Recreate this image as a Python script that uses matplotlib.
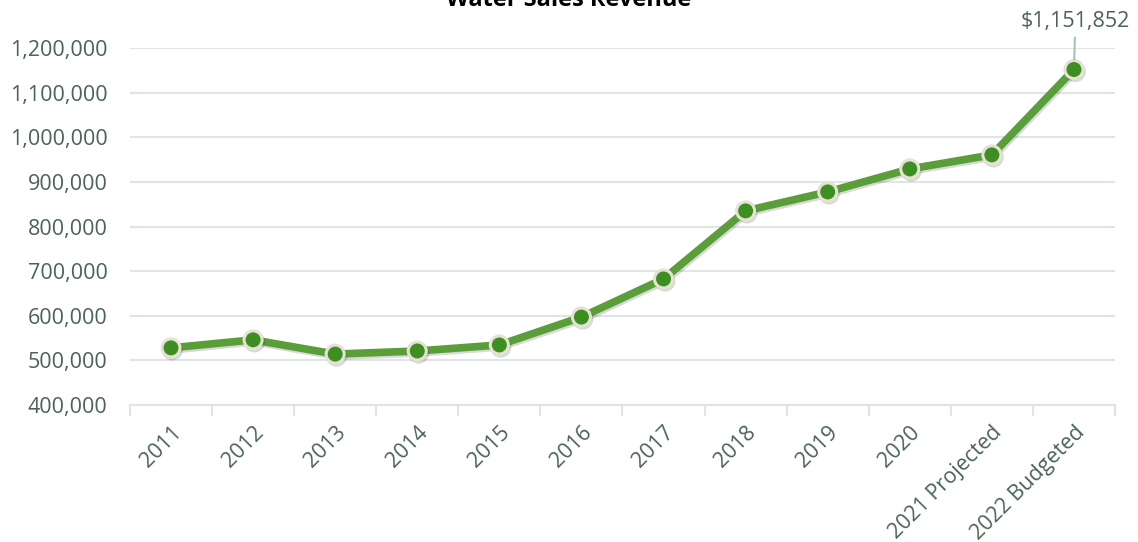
import matplotlib.pyplot as plt
import matplotlib.patheffects as pe
from matplotlib.ticker import FuncFormatter

plt.rcParams['font.family'] = ['Open Sans', 'DejaVu Sans']

# Revenue by year
years = ["2011", "2012", "2013", "2014", "2015", "2016", "2017", "2018",
         "2019", "2020", "2021 Projected", "2022 Budgeted"]
revenue = [528000, 546000, 514000, 521000, 534500, 597000, 682500, 835000,
           877500, 929000, 960500, 1151852]

text_color = "#4a6455"
grid_color = "#dfe5e2"
line_color = "#5a9e3a"
marker_color = "#3d8f22"
marker_edge = "#e6e2d3"

fig = plt.figure(figsize=(11.38, 5.42), dpi=100)
ax = fig.add_axes([0.1142, 0.2528, 0.8656, 0.6586])

x = list(range(len(years)))
ax.plot(x, revenue, color=line_color, linewidth=5.5, solid_joinstyle="round",
        marker="o", markersize=13, markerfacecolor=marker_color,
        markeredgecolor=marker_edge, markeredgewidth=2.2, zorder=3,
        path_effects=[pe.SimpleLineShadow(offset=(1, -1.5), alpha=0.15), pe.Normal()],
        clip_on=False)

ax.set_xlim(-0.5, len(years) - 0.5)
ax.set_ylim(400000, 1200000)
ax.set_yticks(range(400000, 1200001, 100000))
ax.yaxis.set_major_formatter(FuncFormatter(lambda v, p: f"{int(v):,}"))
ax.yaxis.grid(True, color=grid_color, linewidth=1.5)
ax.set_axisbelow(True)

ax.set_xticks([i - 0.5 for i in x] + [len(years) - 0.5])
ax.set_xticklabels([])
ax.set_xticks(x, minor=True)
ax.set_xticklabels(years, minor=True, rotation=45, ha="right",
                   rotation_mode="anchor", fontsize=15.5, color=text_color)
ax.tick_params(axis="x", which="major", length=8, width=1.5, color=grid_color)
ax.tick_params(axis="x", which="minor", length=0, pad=12)
ax.tick_params(axis="y", length=0, labelsize=15.5, labelcolor=text_color, pad=16)

for side in ["top", "right", "left"]:
    ax.spines[side].set_visible(False)
ax.spines["bottom"].set_color(grid_color)
ax.spines["bottom"].set_linewidth(1.5)

# Label the final budgeted value
last = len(years) - 1
ax.annotate(f"${revenue[last]:,}", xy=(last, revenue[last]), xytext=(1, 27),
            textcoords="offset points", ha="center", va="bottom",
            fontsize=15.5, color=text_color,
            arrowprops=dict(arrowstyle="-", color="#a9c2b6", linewidth=1.5,
                            shrinkA=2, shrinkB=7),
            annotation_clip=False)

fig.text(0.5, 1.0, "Water Sales Revenue", ha="center", va="center",
         fontsize=17, fontweight="bold", color="black")

fig.savefig("out.png", dpi=100)
